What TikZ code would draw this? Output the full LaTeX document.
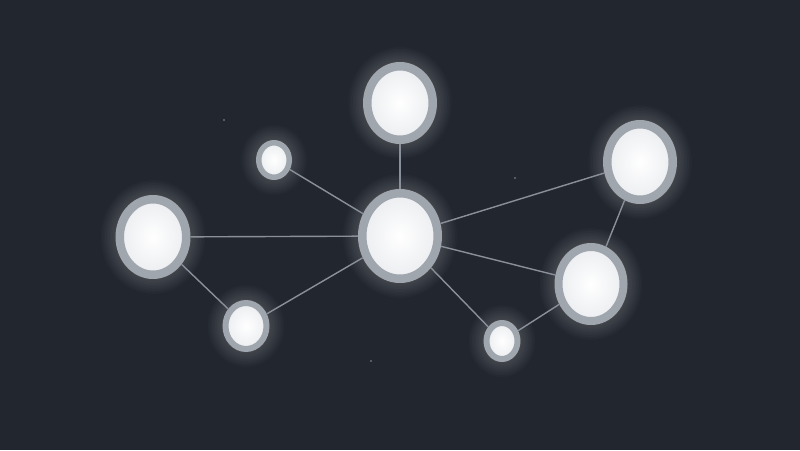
\documentclass[tikz,border=0pt]{standalone}
\usetikzlibrary{shapes.geometric}
\definecolor{bg}{HTML}{22262F}
\definecolor{ring}{HTML}{A0A6AE}
\definecolor{edgec}{HTML}{8A9099}
\definecolor{core}{HTML}{EBEDF0}
\begin{document}
\begin{tikzpicture}[x=1pt,y=-1pt,
  orb/.style={ellipse, draw=ring, inner sep=0pt, outer color=core, inner color=white},
  link/.style={draw=edgec, line width=1.4pt},
  speck/.style={fill=edgec}]
\fill[bg] (0,0) rectangle (800,450);
\useasboundingbox (0,0) rectangle (800,450);
% glow
\foreach \x/\y/\rx/\ry in {400/236/42/47, 400/103/37/41, 640/162/37/42, 153/237/37.5/42, 591/284/36.5/41, 246/326/23.5/26, 502/341/18.5/21, 274/160/18/20}{
  \foreach \k in {1,...,10}{
    \fill[white, opacity=0.014] (\x,\y) ellipse [x radius=\rx pt+\k*1.5pt, y radius=\ry pt+\k*1.5pt];
  }
}
% nodes
\node[orb, line width=8.5pt, minimum width=75.5pt, minimum height=85.5pt] (c) at (400,236) {};
\node[orb, line width=8.5pt, minimum width=65.5pt, minimum height=73.5pt] (t) at (400,103) {};
\node[orb, line width=8.5pt, minimum width=65.5pt, minimum height=75.5pt] (tr) at (640,162) {};
\node[orb, line width=8.5pt, minimum width=66.5pt, minimum height=75.5pt] (l) at (153,237) {};
\node[orb, line width=8pt, minimum width=65pt, minimum height=74pt] (r) at (591,284) {};
\node[orb, line width=6pt, minimum width=41pt, minimum height=46pt] (bl) at (246,326) {};
\node[orb, line width=6pt, minimum width=31pt, minimum height=36pt] (bs) at (502,341) {};
\node[orb, line width=5.5pt, minimum width=30.5pt, minimum height=34.5pt] (stl) at (274,160) {};
% links
\draw[link] (c) -- (t);
\draw[link] (c) -- (stl);
\draw[link] (c) -- (l);
\draw[link] (c) -- (bl);
\draw[link] (c) -- (tr);
\draw[link] (c) -- (r);
\draw[link] (c) -- (bs);
\draw[link] (l) -- (bl);
\draw[link] (tr) -- (r);
\draw[link] (r) -- (bs);
% specks
\fill[speck] (224,120) circle [radius=0.9pt];
\fill[speck] (515,178) circle [radius=0.9pt];
\fill[speck] (371,361) circle [radius=0.9pt];
\end{tikzpicture}
\end{document}
